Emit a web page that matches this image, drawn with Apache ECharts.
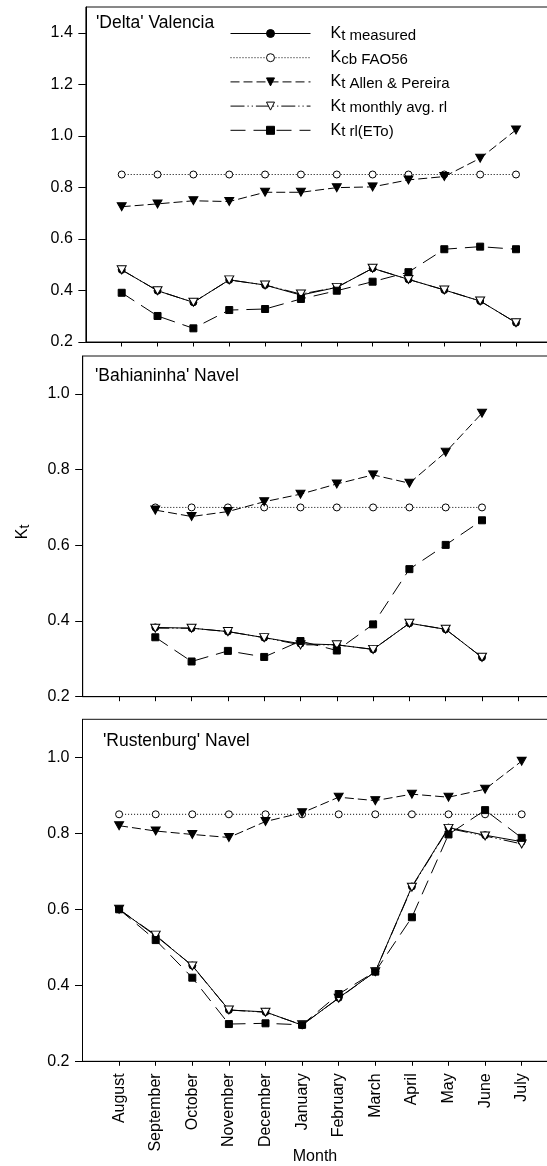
<!DOCTYPE html>
<html>
<head>
<meta charset="utf-8">
<script src="https://cdn.jsdelivr.net/npm/echarts@6/dist/echarts.min.js"></script>
<style>
  html, body { margin: 0; padding: 0; background: #fff; }
  #chart { width: 547px; height: 1166px; }
</style>
</head>
<body>
<div id="chart"></div>
<script>
// Months of the season, August to July
const months = ['August', 'September', 'October', 'November', 'December', 'January',
                'February', 'March', 'April', 'May', 'June', 'July'];

// Tick values of the y axes
const yTicksTop = [0.2, 0.4, 0.6, 0.8, 1.0, 1.2, 1.4];
const yTicksLower = [0.2, 0.4, 0.6, 0.8, 1.0];

// 'Delta' Valencia
const valenciaMeasured = [0.480, 0.399, 0.354, 0.441, 0.421, 0.382, 0.412, 0.486, 0.443, 0.402, 0.359, 0.275];
const valenciaKcb      = [0.85, 0.85, 0.85, 0.85, 0.85, 0.85, 0.85, 0.85, 0.85, 0.85, 0.85, 0.85];
const valenciaAllen    = [0.725, 0.736, 0.748, 0.745, 0.781, 0.781, 0.799, 0.802, 0.829, 0.842, 0.913, 1.023];
const valenciaAvgRl    = [0.480, 0.399, 0.354, 0.441, 0.421, 0.386, 0.412, 0.486, 0.443, 0.402, 0.359, 0.275];
const valenciaRlEto    = [0.391, 0.301, 0.253, 0.324, 0.328, 0.367, 0.399, 0.434, 0.471, 0.560, 0.570, 0.560];

// 'Bahianinha' Navel (no August / July values)
const bahiaMeasured = [null, 0.383, 0.381, 0.372, 0.356, 0.340, 0.337, 0.325, 0.394, 0.378, 0.304, null];
const bahiaKcb      = [null, 0.70, 0.70, 0.70, 0.70, 0.70, 0.70, 0.70, 0.70, 0.70, 0.70, null];
const bahiaAllen    = [null, 0.693, 0.676, 0.689, 0.715, 0.735, 0.762, 0.786, 0.764, 0.846, 0.949, null];
const bahiaAvgRl    = [null, 0.381, 0.381, 0.372, 0.356, 0.337, 0.337, 0.325, 0.394, 0.378, 0.304, null];
const bahiaRlEto    = [null, 0.357, 0.293, 0.321, 0.305, 0.347, 0.322, 0.391, 0.537, 0.601, 0.666, null];

// 'Rustenburg' Navel
const rustMeasured = [0.600, 0.530, 0.452, 0.335, 0.330, 0.295, 0.367, 0.436, 0.660, 0.815, 0.795, 0.778];
const rustKcb      = [0.85, 0.85, 0.85, 0.85, 0.85, 0.85, 0.85, 0.85, 0.85, 0.85, 0.85, 0.85];
const rustAllen    = [0.820, 0.806, 0.797, 0.789, 0.831, 0.854, 0.895, 0.886, 0.903, 0.895, 0.916, 0.990];
const rustAvgRl    = [0.600, 0.532, 0.451, 0.335, 0.329, 0.296, 0.366, 0.436, 0.658, 0.813, 0.793, 0.772];
const rustRlEto    = [0.600, 0.519, 0.420, 0.298, 0.300, 0.296, 0.377, 0.436, 0.579, 0.797, 0.861, 0.788];

const FONT = 'Liberation Sans, Arial, Helvetica, sans-serif';
const DOWN_TRIANGLE = 'path://M0,0L10,0L5,9Z';

// Drawing style of each curve
const curveStyles = {
  measured: { symbol: 'circle', size: 7, fill: '#000', dash: 'solid' },
  kcb:      { symbol: 'circle', size: 7, fill: '#fff', dash: [1, 2] },
  allen:    { symbol: DOWN_TRIANGLE, size: [9, 8], fill: '#000', dash: [9, 4] },
  avg:      { symbol: DOWN_TRIANGLE, size: [9, 8], fill: '#fff', dash: [14, 3, 1.2, 3, 1.2, 3] },
  rl:       { symbol: 'rect', size: 7, fill: '#000', dash: [15, 8] }
};
const curveNames = {
  measured: 'Kt measured', kcb: 'Kcb FAO56', allen: 'Kt Allen & Pereira',
  avg: 'Kt monthly avg. rl', rl: 'Kt rl(ETo)'
};
const legendRich = {
  'Kt measured': '{sp| }{k|K}{s|t measured}',
  'Kcb FAO56': '{sp| }{k|K}{s|cb FAO56}',
  'Kt Allen & Pereira': '{sp| }{k|K}{s|t Allen & Pereira}',
  'Kt monthly avg. rl': '{sp| }{k|K}{s|t monthly avg. rl}',
  'Kt rl(ETo)': '{sp| }{k|K}{s|t rl(ETo)}'
};

const panels = [
  { title: "'Delta' Valencia", rect: { left: 85.85, top: 7, width: 466, height: 335 },
    yMax: 1.5, ticks: yTicksTop, titlePos: [96, 14],
    data: { measured: valenciaMeasured, kcb: valenciaKcb, allen: valenciaAllen, avg: valenciaAvgRl, rl: valenciaRlEto } },
  { title: "'Bahianinha' Navel", rect: { left: 82.7, top: 356, width: 471.9, height: 340.7 },
    yMax: 1.1, ticks: yTicksLower, titlePos: [95, 367],
    data: { measured: bahiaMeasured, kcb: bahiaKcb, allen: bahiaAllen, avg: bahiaAvgRl, rl: bahiaRlEto } },
  { title: "'Rustenburg' Navel", rect: { left: 82.5, top: 719.3, width: 475.8, height: 342 },
    yMax: 1.1, ticks: yTicksLower, titlePos: [103, 732],
    data: { measured: rustMeasured, kcb: rustKcb, allen: rustAllen, avg: rustAvgRl, rl: rustRlEto } }
];

// Category slots with an empty slot at each end so the months sit one step in from the frame
const xCats = [''].concat(months, ['']);
const pad = arr => [null].concat(arr, [null]);

const grids = [], xAxes = [], yAxes = [], series = [], graphics = [];

panels.forEach((p, i) => {
  const last = i === panels.length - 1;
  grids.push(Object.assign({ show: true, borderColor: '#111', borderWidth: 1, backgroundColor: 'transparent',
                             outerBoundsMode: 'none', containLabel: false }, p.rect));
  xAxes.push({
    type: 'category', gridIndex: i, data: xCats, boundaryGap: false,
    axisLine: { show: true, lineStyle: { color: '#000', width: 1 } },
    axisTick: { show: true, length: 4.5, interval: idx => idx > 0 && idx < xCats.length - 1,
                lineStyle: { color: '#000', width: 1 } },
    axisLabel: { show: last, rotate: 90, margin: 12, fontFamily: FONT, fontSize: 16, color: '#000',
                 interval: 0 },
    splitLine: { show: false }
  });
  yAxes.push({
    type: 'value', gridIndex: i, min: 0.2, max: p.yMax,
    axisLine: { show: true, lineStyle: { color: '#000', width: 1 } },
    axisTick: { show: true, length: 7.5, customValues: p.ticks, lineStyle: { color: '#000', width: 1 } },
    axisLabel: { show: true, customValues: p.ticks, margin: 13, fontFamily: FONT, fontSize: 16, color: '#000',
                 formatter: v => v.toFixed(1) },
    splitLine: { show: false }
  });
  ['measured', 'kcb', 'allen', 'avg', 'rl'].forEach(key => {
    const st = curveStyles[key];
    series.push({
      type: 'line', name: curveNames[key], xAxisIndex: i, yAxisIndex: i,
      data: pad(p.data[key]),
      symbol: st.symbol, symbolSize: st.size, showSymbol: true, showAllSymbol: true,
      connectNulls: false,
      lineStyle: { color: '#000', width: 1, type: st.dash },
      itemStyle: { color: st.fill, borderColor: '#000', borderWidth: 1 },
      emphasis: { disabled: true },
      z: 2
    });
  });
  graphics.push({
    type: 'text', left: p.titlePos[0], top: p.titlePos[1],
    style: { text: p.title, fontFamily: FONT, fontSize: 17.5, fill: '#000' }
  });
});

// y axis name Kt, and the x axis name
graphics.push({
  type: 'text', x: 23, y: 532, rotation: Math.PI / 2,
  style: {
    text: '{k|K}{s|t}', align: 'center', verticalAlign: 'middle', fill: '#000',
    rich: {
      k: { fontFamily: FONT, fontSize: 16, lineHeight: 16, verticalAlign: 'top', fill: '#000' },
      s: { fontFamily: FONT, fontSize: 14, lineHeight: 16, padding: [4, 0, 0, 0], fill: '#000' }
    }
  }
});
graphics.push({
  type: 'text', x: 315, y: 1157,
  style: { text: 'Month', align: 'center', verticalAlign: 'middle', fontFamily: FONT, fontSize: 16, fill: '#000' }
});

const legendData = ['measured', 'kcb', 'allen', 'avg', 'rl'].map(key => ({
  name: curveNames[key],
  lineStyle: { type: curveStyles[key].dash, width: 1, color: '#000' },
  itemStyle: { color: curveStyles[key].fill, borderColor: '#000', borderWidth: 1 }
}));

const option = {
  animation: false,
  backgroundColor: '#fff',
  grid: grids,
  xAxis: xAxes,
  yAxis: yAxes,
  series: series,
  legend: {
    orient: 'vertical', left: 230, top: 24, padding: 0,
    itemWidth: 80, itemHeight: 10, itemGap: 5.2,
    selectedMode: false, data: legendData,
    lineStyle: { width: 1 }, itemStyle: { borderWidth: 1 },
    formatter: name => legendRich[name],
    textStyle: {
      fontFamily: FONT, color: '#000',
      rich: {
        sp: { width: 15, fontSize: 10 },
        k: { fontFamily: FONT, fontSize: 16, lineHeight: 16, verticalAlign: 'top', color: '#000' },
        s: { fontFamily: FONT, fontSize: 15, lineHeight: 16, padding: [4, 0, 0, 0], color: '#000' }
      }
    }
  },
  graphic: graphics
};

const chart = echarts.init(document.getElementById('chart'), null, { renderer: 'canvas' });
chart.setOption(option);
</script>
</body>
</html>
